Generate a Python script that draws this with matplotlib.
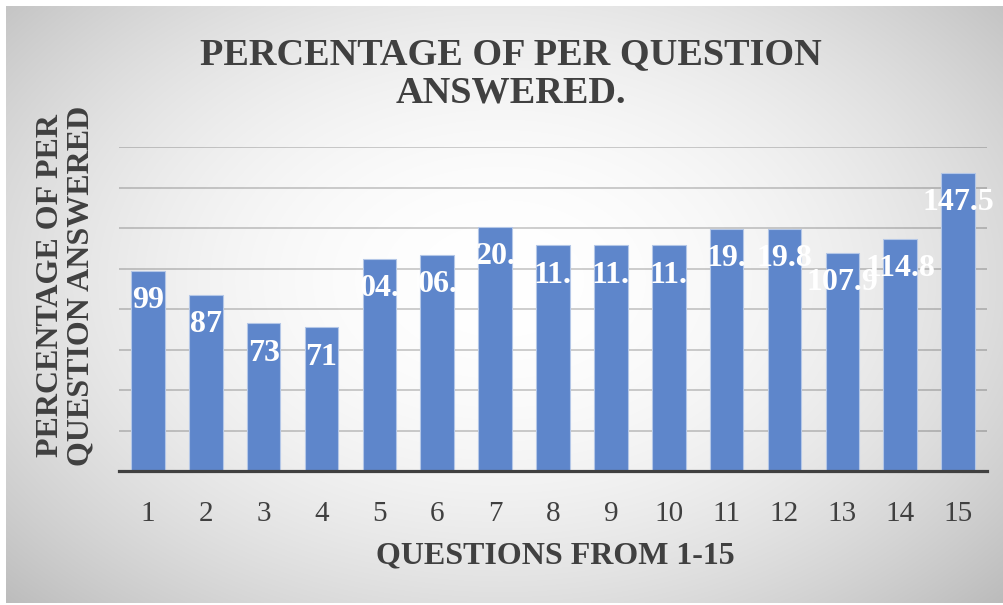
import numpy as np
import matplotlib.pyplot as plt

questions = [str(i) for i in range(1, 16)]
percent = [99, 87, 73, 71, 104.8, 106.8, 120.8, 111.7, 111.7, 111.7,
           119.8, 119.8, 107.9, 114.8, 147.5]
# data labels as they show in the chart (the wide ones got clipped)
shown_labels = ['99', '87', '73', '71', '04.', '06.', '20.', '11.', '11.', '11.',
                '19.', '19.8', '107.9', '114.8', '147.5']

plt.rcParams['font.family'] = ['Liberation Serif', 'DejaVu Serif']

W, H = 1004, 605
fig = plt.figure(figsize=(W / 100, H / 100), dpi=100)

# radial grey-to-white chart background
bg = fig.add_axes([0, 0, 1, 1], zorder=-1)
yy, xx = np.mgrid[0:H, 0:W]
r2 = ((xx - 500) / 560.0) ** 2 + ((yy - 280) / 380.0) ** 2
shade = np.clip(1 - 0.175 * r2, 0, 1)
img = np.dstack([shade, shade, shade])
img[:6, :] = 1
img[603:, :] = 1
img[:, :6] = 1
bg.imshow(img, extent=[0, W, H, 0], aspect='auto', interpolation='bilinear')
bg.set_xlim(0, W)
bg.set_ylim(H, 0)
bg.axis('off')

ax = fig.add_axes([119 / W, 1 - 471 / H, 868 / W, 323.7 / H])
ax.patch.set_alpha(0)

x = np.arange(1, len(percent) + 1)
bars = ax.bar(x, percent, width=0.58, color='#5e86cb', edgecolor='#b4c7e7',
              linewidth=0.8, zorder=3)

for xi, v, lab in zip(x, percent, shown_labels):
    ax.annotate(lab, (xi, v), xytext=(0, -30), textcoords='offset pixels',
                ha='center', va='center', color='white', fontsize=23,
                fontweight='bold', zorder=4)

ax.set_xlim(0.5, 15.5)
ax.set_ylim(0, 160)
ax.set_yticks(np.arange(20, 161, 20))
ax.yaxis.grid(True, color='black', alpha=0.24, linewidth=1.1, zorder=0)
ax.tick_params(axis='y', left=False, labelleft=False)
ax.set_xticks(x)
ax.set_xticklabels(questions, fontsize=21, color='#404040')
ax.tick_params(axis='x', bottom=False, pad=18)
for s in ['top', 'right', 'left']:
    ax.spines[s].set_visible(False)
ax.spines['bottom'].set_color('#404040')
ax.spines['bottom'].set_linewidth(2.3)
ax.spines['bottom'].set_zorder(5)

fig.text(511 / W, 1 - 74 / H, 'PERCENTAGE OF PER QUESTION\nANSWERED.',
         ha='center', va='center', fontsize=27.5, fontweight='bold',
         color='#404040', linespacing=1.12)
fig.text(555 / W, 1 - 556 / H, 'QUESTIONS FROM 1-15', ha='center', va='center',
         fontsize=23, fontweight='bold', color='#404040')
fig.text(66 / W, 1 - 286 / H, 'PERCENTAGE OF PER\nQUESTION ANSWERED',
         ha='center', va='center', rotation=90, fontsize=23,
         fontweight='bold', color='#404040', linespacing=1.05)

fig.savefig('out.png', dpi=100)
